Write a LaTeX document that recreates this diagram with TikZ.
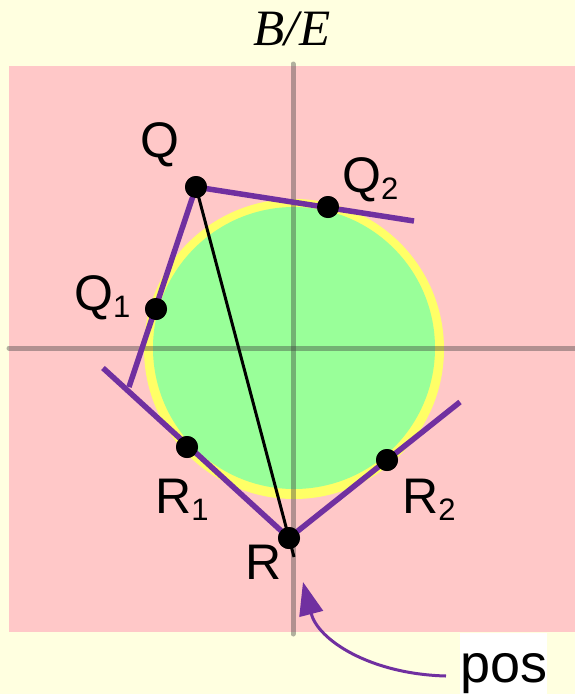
\documentclass[tikz,border=0pt]{standalone}
\usepackage{fontspec}
\setmainfont{Liberation Sans}
\newfontfamily\titlefont{Liberation Serif}
\usetikzlibrary{arrows.meta}
\definecolor{bgyellow}{RGB}{255,255,224}
\definecolor{planepink}{RGB}{255,200,200}
\definecolor{discgreen}{RGB}{153,255,153}
\definecolor{ringyellow}{RGB}{255,255,102}
\definecolor{tanpurple}{RGB}{112,48,160}
\definecolor{axisgray}{RGB}{60,60,60}
\newcommand{\lowidx}[1]{\raisebox{-7pt}{\fontsize{31}{31}\selectfont #1}}

\begin{document}
\begin{tikzpicture}[x=1pt, y=-1pt, every node/.style={font=\fontsize{50}{50}\selectfont, inner sep=0pt},
    dot/.style={circle, fill=black, minimum size=22pt, inner sep=0pt},
    tangent/.style={tanpurple, line width=5.5pt},
    axisline/.style={axisgray, opacity=0.4, line width=5pt, line cap=round}]
        \useasboundingbox (0,0) rectangle (575,694);
        \fill[bgyellow] (0,0) rectangle (575,694);
        % Plane
        \fill[planepink] (9,66) rectangle (575,632);
        \node[font=\titlefont\itshape\fontsize{51}{51}\selectfont, anchor=base] (title) at (292,45) {B/E};
        % Disc
        \fill[ringyellow] (294,349) circle[radius=150pt];
        \fill[discgreen] (294,348) circle[radius=141pt];
        % Axes
        \draw[axisline] (293,64) -- (293,634);
        \draw[axisline] (9,348) -- (575,348);
        % Points
        \node[dot] (Q) at (196,187) {};
        \node[dot] (Q2) at (328,207) {};
        \node[dot] (Q1) at (156,309) {};
        \node[dot] (R1) at (187,447) {};
        \node[dot] (R2) at (387,460) {};
        \node[dot] (R) at (289,538) {};
        \coordinate (Q2end) at (414,221);
        \coordinate (Q1end) at (129,387);
        \coordinate (R1end) at (103,368);
        \coordinate (R2end) at (460,402);
        \coordinate (Rtail) at (294,557);
        % Tangent lines
        \draw[tangent] (Q.center) -- (Q2end);
        \draw[tangent] (Q.center) -- (Q1end);
        \draw[tangent] (R1end) -- (R.center);
        \draw[tangent] (R.center) -- (R2end);
        % Chord
        \draw[black, line width=3pt] (Q.center) -- (Rtail);
        \node[dot] at (Q) {};
        \node[dot] at (Q2) {};
        \node[dot] at (Q1) {};
        \node[dot] at (R1) {};
        \node[dot] at (R2) {};
        \node[dot] at (R) {};
        % Labels
        \node[anchor=base west] (Qlbl) at (140,157) {Q};
        \node[anchor=base west] (Q2lbl) at (342,192) {Q\lowidx{2}};
        \node[anchor=base west] (Q1lbl) at (74,310) {Q\lowidx{1}};
        \node[anchor=base west] (R1lbl) at (155,513) {R\lowidx{1}};
        \node[anchor=base west] (R2lbl) at (402,513) {R\lowidx{2}};
        \node[anchor=base west] (Rlbl) at (245,579) {R};
        % Pointer
        \node[fill=white, anchor=base west, font=\fontsize{54}{54}\selectfont, text height=49pt, text depth=12pt, minimum width=87pt] (pos) at (460,682) {pos};
        \coordinate (arrstart) at (446,676);
        \coordinate (arrtip) at (303,582);
        \draw[tanpurple, line width=3pt, -{Triangle[length=33pt, width=24pt]}] (arrstart) .. controls (370,674) and (318,640) .. (arrtip);
      \end{tikzpicture}
\end{document}
